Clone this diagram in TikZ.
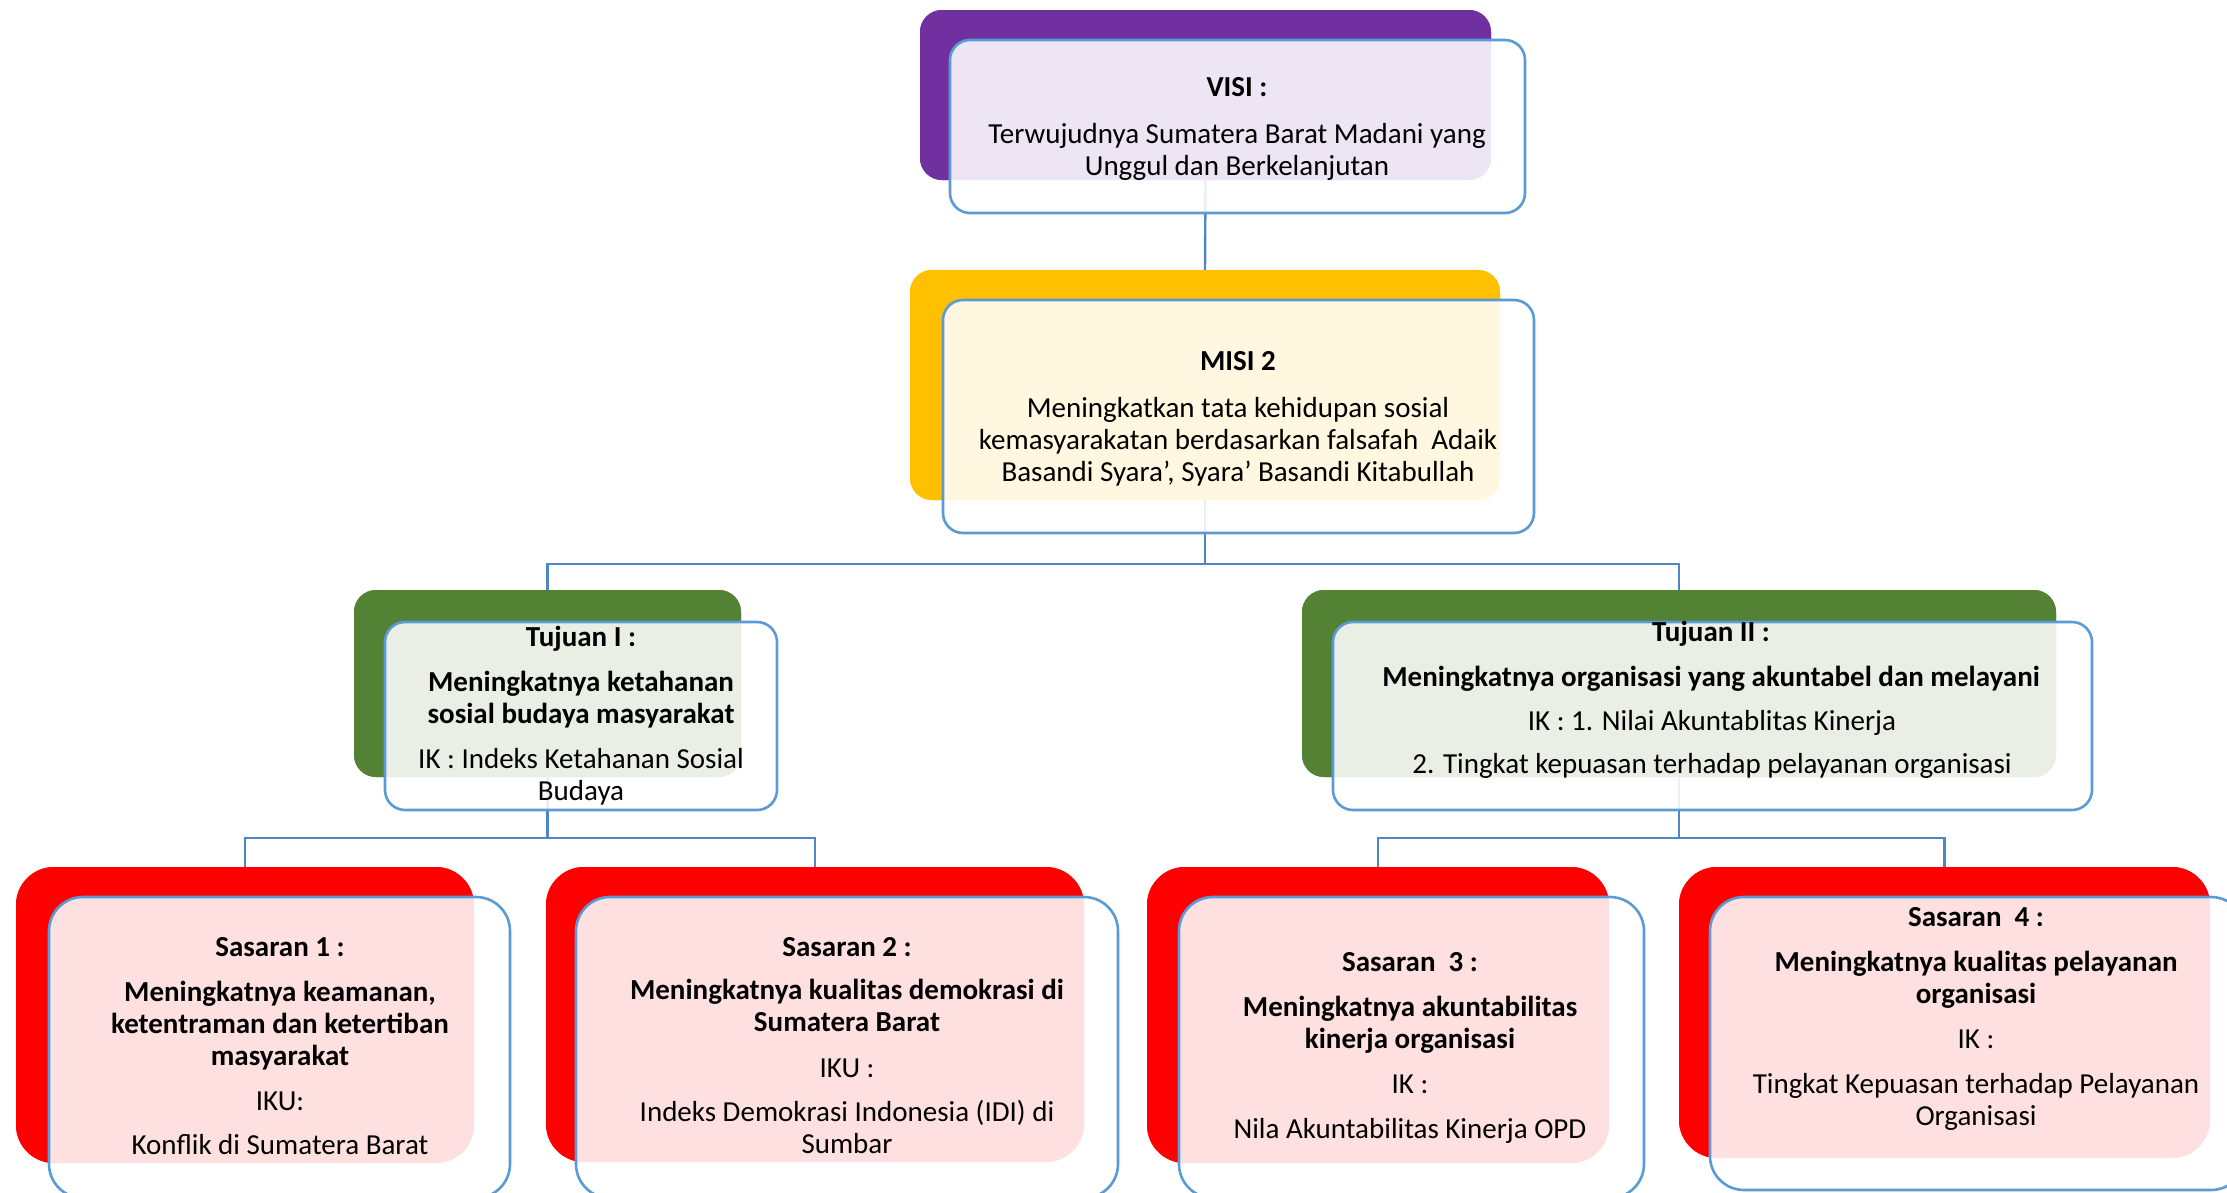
\documentclass[tikz,border=0pt]{standalone}
\usepackage{fontspec}
\setmainfont{Carlito}
\definecolor{cpurple}{HTML}{7030A0}
\definecolor{cyellow}{HTML}{FFC000}
\definecolor{cgreen}{HTML}{548235}
\definecolor{cred}{HTML}{FF0000}
\definecolor{cborder}{HTML}{5B9BD5}
\definecolor{cline}{HTML}{4F86C6}
\tikzset{
  backbox/.style={rectangle, rounded corners=22pt, inner sep=0pt, outer sep=0pt, draw=none},
  frontbox/.style={rectangle, rounded corners=20pt, inner sep=0pt, outer sep=0pt, draw=cborder, line width=2.6pt, fill=white, fill opacity=0.88},
  sback/.style={backbox, rounded corners=38pt, fill=cred},
  sfront/.style={frontbox, rounded corners=34pt},
  conn/.style={draw=cline, line width=2.4pt},
  txt/.style={inner sep=0pt, align=center, font=\fontsize{29}{32}\selectfont},
  btxt/.style={txt, font=\fontsize{29}{32}\selectfont\bfseries}
}
\begin{document}
\begin{tikzpicture}[x=1pt,y=-1pt]
\useasboundingbox (0,0) rectangle (2227,1192);
% junction coordinates
\coordinate (mj) at (1205,564);
\coordinate (j1) at (547.5,838);
\coordinate (j2) at (1679,838);
% back boxes (named first so connectors can reference them)
\path
  node[backbox, fill=cpurple, minimum width=571pt, minimum height=170pt] (visib) at (1205.5,95) {}
  node[backbox, fill=cyellow, minimum width=590pt, minimum height=230pt] (misib) at (1205,385) {}
  node[backbox, fill=cgreen, minimum width=387pt, minimum height=187pt] (t1b) at (547.5,683.5) {}
  node[backbox, fill=cgreen, minimum width=754pt, minimum height=187pt] (t2b) at (1679,683.5) {}
  node[sback, minimum width=458pt, minimum height=296pt] (s1b) at (245,1015) {}
  node[sback, minimum width=538pt, minimum height=295pt] (s2b) at (815,1014.5) {}
  node[sback, minimum width=462pt, minimum height=296pt] (s3b) at (1378,1015) {}
  node[sback, minimum width=531pt, minimum height=291pt] (s4b) at (1944.5,1012.5) {};
% connectors
\draw[conn] (visib.south) -- (misib.north);
\draw[conn] (misib.south) -- (mj);
\draw[conn] (t1b.north) |- (mj) -| (t2b.north);
\draw[conn] (t1b.south) -- (j1);
\draw[conn] (s1b.north) |- (j1) -| (s2b.north);
\draw[conn] (t2b.south) -- (j2);
\draw[conn] (s3b.north) |- (j2) -| (s4b.north);
% redraw back boxes over connectors
\fill[cpurple, rounded corners=22pt] (visib.south west) rectangle (visib.north east);
\fill[cyellow, rounded corners=22pt] (misib.south west) rectangle (misib.north east);
\fill[cgreen, rounded corners=22pt] (t1b.south west) rectangle (t1b.north east);
\fill[cgreen, rounded corners=22pt] (t2b.south west) rectangle (t2b.north east);
\fill[cred, rounded corners=38pt] (s1b.south west) rectangle (s1b.north east);
\fill[cred, rounded corners=38pt] (s2b.south west) rectangle (s2b.north east);
\fill[cred, rounded corners=38pt] (s3b.south west) rectangle (s3b.north east);
\fill[cred, rounded corners=38pt] (s4b.south west) rectangle (s4b.north east);
% front boxes
\node[frontbox, minimum width=575pt, minimum height=173pt] (visif) at (1237.5,126.5) {};
\node[frontbox, minimum width=591pt, minimum height=233pt] (misif) at (1238.5,416.5) {};
\node[frontbox, minimum width=392pt, minimum height=188pt] (t1f) at (581,716) {};
\node[frontbox, minimum width=759pt, minimum height=188pt] (t2f) at (1712.5,716) {};
\node[sfront, minimum width=461pt, minimum height=301pt] (s1f) at (279.5,1047.5) {};
\node[sfront, minimum width=542pt, minimum height=301pt] (s2f) at (847,1047.5) {};
\node[sfront, minimum width=465pt, minimum height=301pt] (s3f) at (1411.5,1047.5) {};
\node[sfront, minimum width=535pt, minimum height=293pt] (s4f) at (1977.5,1043.5) {};
% texts: VISI
\node[btxt] (vt1) at (1237,90) {\strut VISI :};
\node[txt] (vt2) at (1237,153) {\strut Terwujudnya Sumatera Barat Madani yang\\\strut Unggul dan Berkelanjutan};
% MISI
\node[btxt] (mt1) at (1238,364) {\strut MISI 2};
\node[txt] (mt2) at (1238,443.5) {\strut Meningkatkan tata kehidupan sosial\\\strut kemasyarakatan berdasarkan falsafah~ Adaik\\\strut Basandi Syara’, Syara’ Basandi Kitabullah};
% Tujuan I
\node[btxt] (a1) at (581,640) {\strut Tujuan I :};
\node[btxt] (a2) at (581,701) {\strut Meningkatnya ketahanan\\\strut sosial budaya masyarakat};
\node[txt] (a3) at (581,778) {\strut IK : Indeks Ketahanan Sosial\\\strut Budaya};
% Tujuan II
\node[btxt] (b1) at (1711,635) {\strut Tujuan II :};
\node[btxt] (b2) at (1711,680) {\strut Meningkatnya organisasi yang akuntabel dan melayani};
\node[txt] (b3) at (1712,724) {\strut IK : 1. Nilai Akuntablitas Kinerja};
\node[txt] (b4) at (1712,767) {\strut 2. Tingkat kepuasan terhadap pelayanan organisasi};
% Sasaran 1
\node[btxt] (c1) at (280,950) {\strut Sasaran 1 :};
\node[btxt] (c2) at (280,1027) {\strut Meningkatnya keamanan,\\\strut ketentraman dan ketertiban\\\strut masyarakat};
\node[txt] (c3) at (280,1104) {\strut IKU:};
\node[txt] (c4) at (280,1148) {\strut Konflik di Sumatera Barat};
% Sasaran 2
\node[btxt] (d1) at (847,950) {\strut Sasaran 2 :};
\node[btxt] (d2) at (847,1009) {\strut Meningkatnya kualitas demokrasi di\\\strut Sumatera Barat};
\node[txt] (d3) at (847,1071) {\strut IKU :};
\node[txt] (d4) at (847,1131) {\strut Indeks Demokrasi Indonesia (IDI) di\\\strut Sumbar};
% Sasaran 3
\node[btxt] (e1) at (1410,965) {\strut Sasaran~ 3 :};
\node[btxt] (e2) at (1410,1026) {\strut Meningkatnya akuntabilitas\\\strut kinerja organisasi};
\node[txt] (e3) at (1410,1087) {\strut IK :};
\node[txt] (e4) at (1410,1132) {\strut Nila Akuntabilitas Kinerja OPD};
% Sasaran 4
\node[btxt] (f1) at (1976,920) {\strut Sasaran~ 4 :};
\node[btxt] (f2) at (1976,981) {\strut Meningkatnya kualitas pelayanan\\\strut organisasi};
\node[txt] (f3) at (1976,1042) {\strut IK :};
\node[txt] (f4) at (1976,1103) {\strut Tingkat Kepuasan terhadap Pelayanan\\\strut Organisasi};
\end{tikzpicture}
\end{document}
